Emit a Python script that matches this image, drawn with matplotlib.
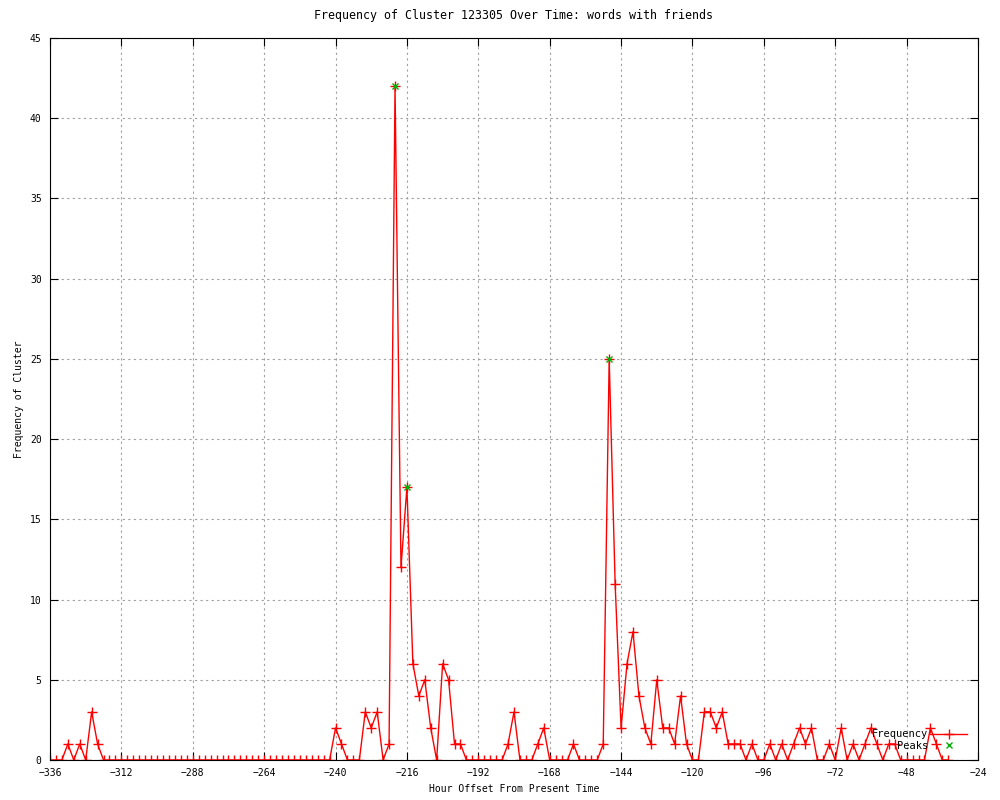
import numpy as np
import matplotlib.pyplot as plt

# hour offsets, one sample every 2 hours
hours = np.arange(-336, -33, 2)
freq = [0, 0, 0, 1, 0, 1, 0, 3, 1,                      # -336 .. -320
        0, 0, 0, 0, 0, 0, 0, 0, 0, 0, 0, 0, 0, 0, 0, 0,   # -318 .. -288
        0, 0, 0, 0, 0, 0, 0, 0, 0, 0, 0, 0, 0, 0, 0, 0,   # -286 .. -256
        0, 0, 0, 0, 0, 0, 0,                              # -254 .. -242
        2, 1, 0, 0, 0, 3, 2, 3, 0, 1,                     # -240 .. -222
        42, 12, 17, 6, 4, 5, 2, 0, 6, 5, 1, 1,            # -220 .. -198
        0, 0, 0, 0, 0, 0, 0, 1, 3, 0, 0, 0, 1, 2,         # -196 .. -170
        0, 0, 0, 0, 1, 0, 0, 0, 0, 1,                     # -168 .. -150
        25, 11, 2, 6, 8, 4, 2, 1, 5, 2, 2, 1, 4, 1,       # -148 .. -122
        0, 0, 3, 3, 2, 3, 1, 1, 1, 0, 1, 0,               # -120 .. -98
        0, 1, 0, 1, 0, 1, 2, 1, 2, 0, 0, 1,               # -96 .. -74
        0, 2, 0, 1, 0, 1, 2, 1, 0, 1, 1, 0,               # -72 .. -50
        0, 0, 0, 0, 2, 1, 0, 0]                           # -48 .. -34

peak_hours = [-220, -216, -148]
peak_vals = [42, 17, 25]

plt.rcParams['font.family'] = 'DejaVu Sans Mono'
plt.rcParams['font.size'] = 7

fig = plt.figure(figsize=(10, 8), dpi=100)
ax = fig.add_axes([0.05, 0.05, 0.928, 0.9025])

ax.plot(hours, freq, color='red', lw=1, marker='+', ms=6.5, mew=1,
        label='Frequency')
ax.plot(peak_hours, peak_vals, ls='none', color='#00b000', marker='x',
        ms=5, mew=1, label='Peaks')

ax.set_xlim(-336, -24)
ax.set_ylim(0, 45)
ax.set_xticks(range(-336, -23, 24))
ax.set_yticks(range(0, 46, 5))
ax.tick_params(direction='in', length=6, top=True, right=True, pad=6)
ax.grid(True, color='#a0a0a0', ls=(0, (2, 3)), lw=0.8)

ax.set_title('Frequency of Cluster 123305 Over Time: words with friends', pad=14)
ax.set_xlabel('Hour Offset From Present Time', labelpad=4)
ax.set_ylabel('Frequency of Cluster', labelpad=4)

ax.legend(loc='lower right', bbox_to_anchor=(0.972, 0.055),
          bbox_transform=fig.transFigure, frameon=False, markerfirst=False,
          fontsize=7.5, handlelength=3.5, handletextpad=0.2, labelspacing=0.15,
          borderpad=0)

plt.savefig('out.png', dpi=100)
